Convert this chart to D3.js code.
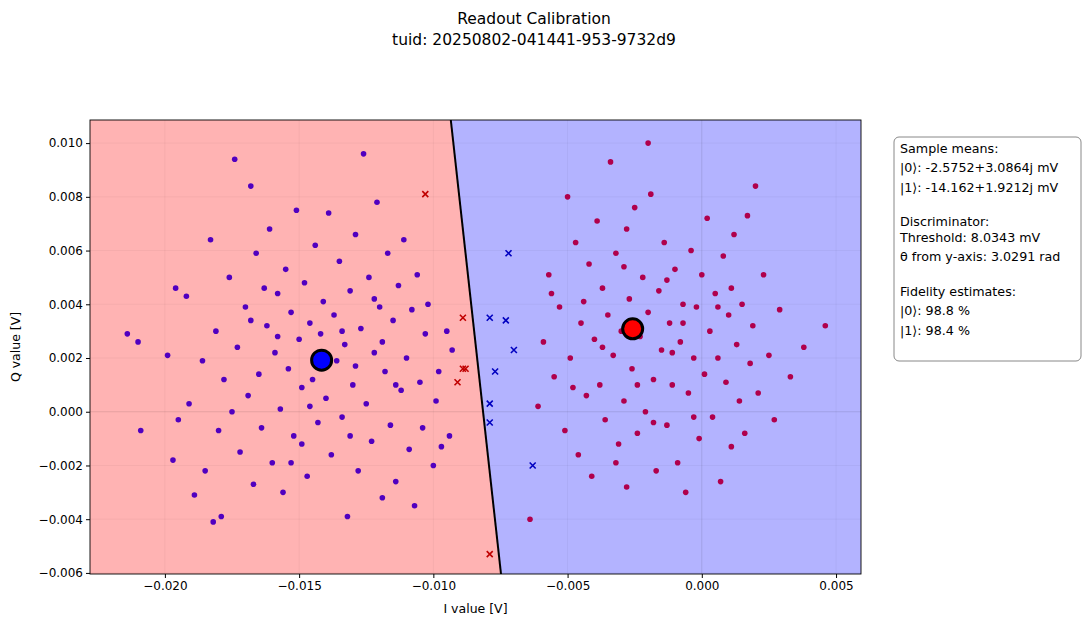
<!DOCTYPE html>
<html><head><meta charset="utf-8">
<script src="https://cdn.jsdelivr.net/npm/d3@7"></script>
<style>body{margin:0;background:#fff}text{font-family:"DejaVu Sans",sans-serif}</style>
</head><body><svg id="c" width="1085" height="627"></svg>
<script>
// data in mV
const state1Points=[[-21.4,2.9],[-21.0,2.6],[-20.9,-0.7],[-19.9,2.1],[-19.6,4.6],[-19.5,-0.3],[-19.7,-1.8],[-19.2,4.3],[-19.1,0.3],[-18.9,-3.1],[-18.6,1.9],[-18.5,-2.2],[-18.3,6.4],[-18.2,-4.1],[-18.1,3.0],[-18.0,-0.7],[-17.9,-3.9],[-17.8,1.2],[-17.6,5.0],[-17.4,9.4],[-17.3,2.4],[-17.2,-1.5],[-17.0,3.9],[-16.9,0.6],[-16.8,8.4],[-16.7,-2.7],[-16.6,5.9],[-16.5,1.4],[-16.4,-0.6],[-16.2,3.2],[-16.1,6.8],[-16.0,-1.9],[-15.9,2.2],[-15.8,4.4],[-15.7,0.1],[-15.6,-3.0],[-15.5,5.3],[-15.4,1.6],[-15.3,3.7],[-15.2,-0.9],[-15.1,7.5],[-15.0,2.7],[-14.9,0.9],[-14.8,4.8],[-14.7,-2.4],[-14.6,3.3],[-14.5,1.2],[-14.4,6.2],[-14.3,-0.4],[-14.2,2.9],[-14.1,4.1],[-14.0,0.5],[-13.9,7.4],[-13.8,-1.6],[-13.7,3.6],[-13.6,1.9],[-13.5,5.6],[-13.4,-0.2],[-13.3,2.5],[-13.2,-3.9],[-13.1,4.5],[-13.0,1.0],[-12.9,6.6],[-12.8,-2.2],[-12.7,3.1],[-12.6,9.6],[-12.5,0.3],[-12.4,5.0],[-12.3,-1.1],[-12.2,2.2],[-12.1,7.8],[-12.0,3.9],[-11.9,-3.2],[-11.8,1.5],[-11.7,5.9],[-11.6,-0.5],[-11.5,3.4],[-11.4,-2.6],[-11.3,4.7],[-11.2,0.8],[-11.1,6.4],[-11.0,2.0],[-10.9,-1.4],[-10.8,3.8],[-10.7,-3.5],[-10.6,5.1],[-10.5,1.1],[-10.4,-0.6],[-10.3,2.9],[-10.2,4.0],[-10.0,-2.0],[-9.9,0.4],[-9.8,1.5],[-9.7,-1.3],[-9.5,3.0],[-9.4,-0.9],[-9.3,2.3],[-12.9,1.7],[-14.6,0.2],[-15.8,2.8],[-13.4,3.0],[-16.3,4.6],[-11.9,2.6],[-14.9,-1.2],[-13.1,-0.9],[-12.2,4.2],[-15.3,-1.9],[-17.5,0.0],[-16.8,3.4],[-11.4,1.0]];
const state0Points=[[-6.4,-4.0],[-6.1,0.2],[-5.9,2.6],[-5.7,5.1],[-5.5,1.3],[-5.3,3.9],[-5.1,-0.7],[-5.0,8.0],[-4.9,2.0],[-4.7,6.3],[-4.6,-1.6],[-4.5,3.3],[-4.3,0.6],[-4.2,5.5],[-4.1,-2.4],[-4.0,2.7],[-3.9,7.1],[-3.8,1.0],[-3.7,4.6],[-3.6,-0.3],[-3.5,3.6],[-3.4,9.3],[-3.3,2.1],[-3.2,5.9],[-3.1,-1.2],[-3.0,3.0],[-2.9,0.4],[-2.8,6.8],[-2.8,-2.8],[-2.7,4.2],[-2.6,1.6],[-2.5,7.6],[-2.4,-0.8],[-2.3,2.8],[-2.2,5.0],[-2.1,0.0],[-2.0,3.7],[-1.9,8.1],[-1.8,1.2],[-1.7,-2.2],[-1.6,4.5],[-1.5,2.3],[-1.4,6.3],[-1.3,-0.5],[-1.2,3.3],[-1.1,1.0],[-1.0,5.3],[-0.9,-1.9],[-0.8,2.6],[-0.7,4.0],[-0.6,-3.0],[-0.5,0.7],[-0.4,6.0],[-0.3,2.0],[-0.2,3.9],[-0.1,-1.0],[0.0,5.1],[0.1,1.4],[0.2,7.2],[0.3,3.0],[0.4,-0.2],[0.5,4.4],[0.6,2.0],[0.7,-2.6],[0.8,5.8],[0.9,1.1],[1.0,3.6],[1.1,-1.3],[1.2,6.6],[1.3,2.5],[1.4,0.4],[1.5,4.0],[1.6,-0.8],[1.7,7.3],[1.8,1.8],[1.9,3.2],[2.0,8.4],[2.1,0.7],[2.3,5.1],[2.5,2.1],[2.7,-0.3],[2.9,3.8],[3.3,1.3],[3.8,2.4],[4.6,3.2],[-2.0,10.0],[-3.2,-1.9],[-1.3,4.9],[-4.4,4.1],[-2.4,1.0],[-0.7,3.3],[-1.8,-0.4],[-3.7,2.4],[0.6,3.9],[-5.6,4.4],[-2.9,5.4],[-0.3,-0.2],[1.1,4.6],[-4.8,0.9],[-1.1,2.2]];
const wrong0=[[-10.3,8.1],[-8.9,3.5],[-8.9,1.6],[-8.8,1.6],[-9.1,1.1],[-7.9,-5.3]];
const wrong1=[[-7.2,5.9],[-7.9,3.5],[-7.3,3.4],[-7.0,2.3],[-7.7,1.5],[-7.9,0.3],[-7.9,-0.4],[-6.3,-2.0]];
const means=[{x:-2.5752,y:3.0864,c:"#ff0000"},{x:-14.162,y:1.9212,c:"#0000ff"}];
const boundary=[[-9.35,10.86],[-7.48,-6.04]];
const xTicks=[-0.020,-0.015,-0.010,-0.005,0.000,0.005];
const yTicks=[-0.006,-0.004,-0.002,0.000,0.002,0.004,0.006,0.008,0.010];
const infoLines=["Sample means:","|0⟩: -2.5752+3.0864j mV","|1⟩: -14.162+1.9212j mV","Discriminator:","Threshold: 8.0343 mV","θ from y-axis: 3.0291 rad","Fidelity estimates:","|0⟩: 98.8 %","|1⟩: 98.4 %"];
const infoY=[153,172,192,226,242,261,296,315,335];

const svg=d3.select("#c");
const L=90,T=120,W=771,H=454;
const x=d3.scaleLinear().domain([-0.02279,0.00593]).range([L,L+W]);
const y=d3.scaleLinear().domain([-0.00604,0.01086]).range([T+H,T]);
const X=v=>x(v/1000),Y=v=>y(v/1000);
const g=svg.append("g");
g.append("defs").append("clipPath").attr("id","cp").append("rect").attr("x",L).attr("y",T).attr("width",W).attr("height",H);
const p=g.append("g").attr("clip-path","url(#cp)");
const b0=[X(boundary[0][0]),Y(boundary[0][1])],b1=[X(boundary[1][0]),Y(boundary[1][1])];
p.append("polygon").attr("points",[[L,T],b0,b1,[L,T+H]].map(d=>d.join(",")).join(" ")).attr("fill","#ffb3b3");
p.append("polygon").attr("points",[b0,[L+W,T],[L+W,T+H],b1].map(d=>d.join(",")).join(" ")).attr("fill","#b3b3ff");
xTicks.forEach(t=>p.append("line").attr("x1",x(t)).attr("x2",x(t)).attr("y1",T).attr("y2",T+H).attr("stroke","#000").attr("stroke-opacity",t===0?0.1:0.04));
yTicks.forEach(t=>p.append("line").attr("y1",y(t)).attr("y2",y(t)).attr("x1",L).attr("x2",L+W).attr("stroke","#000").attr("stroke-opacity",Math.abs(t)<1e-9?0.1:0.04));
p.selectAll(".a").data(state1Points).enter().append("circle").attr("cx",d=>X(d[0])).attr("cy",d=>Y(d[1])).attr("r",2.8).attr("fill","#5000c0");
p.selectAll(".b").data(state0Points).enter().append("circle").attr("cx",d=>X(d[0])).attr("cy",d=>Y(d[1])).attr("r",2.8).attr("fill","#b0004c");
const cross=(data,col)=>data.forEach(d=>{const cx=X(d[0]),cy=Y(d[1]),s=3;p.append("path").attr("d",`M${cx-s},${cy-s}L${cx+s},${cy+s}M${cx-s},${cy+s}L${cx+s},${cy-s}`).attr("stroke",col).attr("stroke-width",1.6);});
cross(wrong0,"#c00000");cross(wrong1,"#0000c0");
p.append("line").attr("x1",b0[0]).attr("y1",b0[1]).attr("x2",b1[0]).attr("y2",b1[1]).attr("stroke","#000").attr("stroke-width",2);
p.selectAll(".m").data(means).enter().append("circle").attr("cx",d=>X(d.x)).attr("cy",d=>Y(d.y)).attr("r",10).attr("fill",d=>d.c).attr("stroke","#000").attr("stroke-width",3);
g.append("rect").attr("x",L).attr("y",T).attr("width",W).attr("height",H).attr("fill","none").attr("stroke","#000").attr("stroke-width",0.9);
const xa=g.append("g").attr("transform",`translate(0,${T+H})`).call(d3.axisBottom(x).tickValues(xTicks).tickFormat(d=>d3.format(".3f")(d).replace("-","−")).tickSize(4));
const ya=g.append("g").attr("transform",`translate(${L},0)`).call(d3.axisLeft(y).tickValues(yTicks).tickFormat(d=>d3.format(".3f")(d).replace("-","−")).tickSize(4));
[xa,ya].forEach(a=>{a.select(".domain").remove();a.selectAll("text").attr("font-size",12).attr("font-family","DejaVu Sans").attr("fill","#000");});
g.append("text").attr("x",L+W/2).attr("y",613).attr("text-anchor","middle").attr("font-size",12.5).text("I value [V]");
g.append("text").attr("transform",`translate(20,${T+H/2}) rotate(-90)`).attr("text-anchor","middle").attr("font-size",12.5).text("Q value [V]");
g.append("text").attr("x",534).attr("y",24).attr("text-anchor","middle").attr("font-size",15.5).text("Readout Calibration");
g.append("text").attr("x",534).attr("y",45).attr("text-anchor","middle").attr("font-size",15.5).text("tuid: 20250802-041441-953-9732d9");
g.append("rect").attr("x",894).attr("y",137).attr("width",187).attr("height",224).attr("rx",5).attr("fill","#fff").attr("stroke","#888");
infoLines.forEach((s,i)=>g.append("text").attr("x",900).attr("y",infoY[i]).attr("font-size",12.7).text(s));
</script></body></html>
